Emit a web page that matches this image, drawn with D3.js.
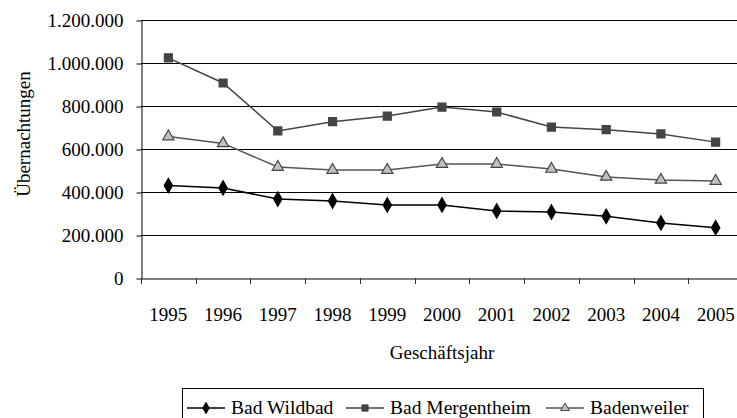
<!DOCTYPE html>
<html>
<head>
<meta charset="utf-8">
<script src="https://cdn.jsdelivr.net/npm/d3@7"></script>
</head>
<body style="margin:0; background:#fff">
<div id="chart"></div>
<script>
// data
var years = ["1995","1996","1997","1998","1999","2000","2001","2002","2003","2004","2005"];
var wildbad     = [430000, 419000, 367000, 358000, 340000, 340000, 312000, 307000, 287000, 256000, 234000];
var mergentheim = [1024000, 907000, 684000, 727000, 753000, 795000, 772000, 702000, 690000, 670000, 632000];
var badenweiler = [658000, 626000, 516000, 502000, 502000, 530000, 530000, 507000, 470000, 456000, 451000];
var yTicks = [0, 200000, 400000, 600000, 800000, 1000000, 1200000];
var seriesNames = ["Bad Wildbad", "Bad Mergentheim", "Badenweiler"];

var FONT = "Liberation Serif";
var FS = 19;

var series = [
  { name: seriesNames[0], values: wildbad, line: "#000", fill: "#000", stroke: "#000", sym: d3.symbolDiamond, size: 60 },
  { name: seriesNames[1], values: mergentheim, line: "#444", fill: "#444", stroke: "#444", sym: d3.symbolSquare, size: 64 },
  { name: seriesNames[2], values: badenweiler, line: "#555", fill: "#c0c0c0", stroke: "#444", sym: d3.symbolTriangle, size: 55 }
];

var W = 737, H = 418;
var svg = d3.select("#chart")
  .append("svg")
    .attr("width", W)
    .attr("height", H)

var x = d3.scaleBand().domain(years).range([141, 743]);
var y = d3.scaleLinear().domain([0, 1200000]).range([278, 20]);

var fmt = function(v) { return v === 0 ? "0" : d3.format(",")(v).replace(/,/g, "."); };

// horizontal gridlines
svg.append("g")
  .selectAll("line")
  .data(yTicks.slice(1))
  .enter()
  .append("line")
    .attr("x1", 141).attr("x2", 743)
    .attr("y1", function(d){ return y(d) + 0.5; })
    .attr("y2", function(d){ return y(d) + 0.5; })
    .attr("stroke", "#000")
    .attr("stroke-width", 1)

// y axis
var yAxis = svg.append("g")
  .attr("transform", "translate(141.5,0.5)")
  .call(d3.axisLeft(y).tickValues(yTicks).tickFormat(fmt).tickSize(5).tickSizeOuter(0))
yAxis.select(".domain").attr("stroke", "#000")
yAxis.selectAll("line").attr("stroke", "#000")
yAxis.selectAll("text")
  .attr("font-family", FONT)
  .attr("font-size", FS)
  .attr("fill", "#000")
  .attr("x", -18)
  .attr("dy", "0.34em")

// x axis, ticks at category boundaries
var xAxis = svg.append("g")
  .attr("transform", "translate(0,278.5)")
  .call(d3.axisBottom(x).tickSize(0).tickSizeOuter(0))
xAxis.select(".domain").attr("stroke", "#000")
xAxis.selectAll("text")
  .attr("font-family", FONT)
  .attr("font-size", FS)
  .attr("fill", "#000")
  .attr("y", 0)
  .attr("dy", 42)
svg.append("g")
  .selectAll("line")
  .data(years)
  .enter()
  .append("line")
    .attr("x1", function(d){ return Math.round(x(d)) + 0.5; })
    .attr("x2", function(d){ return Math.round(x(d)) + 0.5; })
    .attr("y1", 278).attr("y2", 284)
    .attr("stroke", "#333")

// lines and markers
var line = d3.line()
  .x(function(d, i){ return x(years[i]) + x.bandwidth() / 2; })
  .y(function(d){ return y(d); })

series.forEach(function(s) {
  svg.append("path")
    .datum(s.values)
    .attr("d", line)
    .attr("fill", "none")
    .attr("stroke", s.line)
    .attr("stroke-width", 1.5)
  svg.append("g")
    .selectAll("path")
    .data(s.values)
    .enter()
    .append("path")
      .attr("transform", function(d, i){
        return "translate(" + (x(years[i]) + x.bandwidth() / 2) + "," + y(d) + ")";
      })
      .attr("d", d3.symbol().type(s.sym).size(s.size))
      .attr("fill", s.fill)
      .attr("stroke", s.stroke)
      .attr("stroke-width", 1.2)
});

// axis titles
svg.append("text")
  .attr("transform", "translate(30,134) rotate(-90)")
  .attr("text-anchor", "middle")
  .attr("font-family", FONT)
  .attr("font-size", FS)
  .text("Übernachtungen")
svg.append("text")
  .attr("x", 442).attr("y", 359)
  .attr("text-anchor", "middle")
  .attr("font-family", FONT)
  .attr("font-size", FS)
  .text("Geschäftsjahr")

// legend
svg.append("rect")
  .attr("x", 182.5).attr("y", 388.5)
  .attr("width", 521).attr("height", 40)
  .attr("fill", "#fff")
  .attr("stroke", "#000")
var legX = [187, 346, 546];
series.forEach(function(s, i) {
  var g = svg.append("g").attr("transform", "translate(" + legX[i] + ",408)");
  g.append("line")
    .attr("x1", 0).attr("x2", 38)
    .attr("stroke", s.line)
    .attr("stroke-width", 1.5)
  g.append("path")
    .attr("transform", "translate(19,0)")
    .attr("d", d3.symbol().type(s.sym).size(s.size * 0.6))
    .attr("fill", s.fill)
    .attr("stroke", s.stroke)
  g.append("text")
    .attr("x", 44).attr("y", 6)
    .attr("font-family", FONT)
    .attr("font-size", 19.5)
    .text(s.name)
});
</script>
</body>
</html>
